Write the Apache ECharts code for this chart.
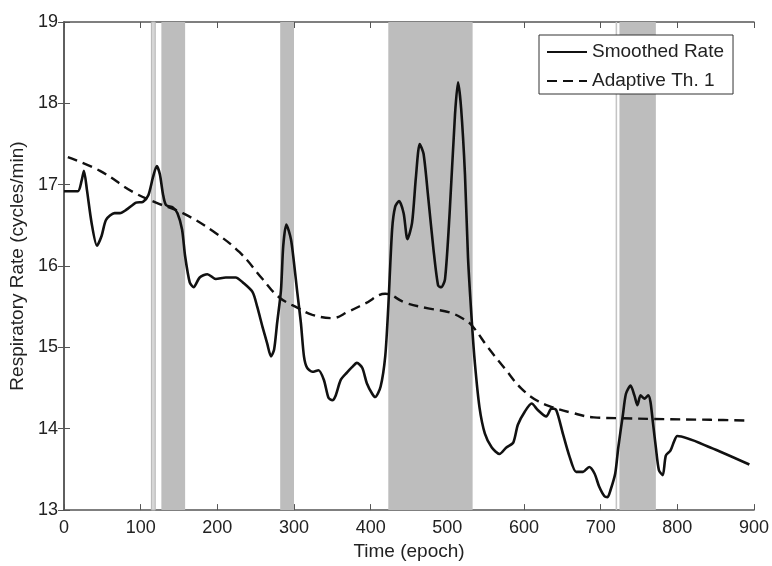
<!DOCTYPE html>
<html>
<head>
<meta charset="utf-8">
<script src="https://cdn.jsdelivr.net/npm/echarts@6/dist/echarts.min.js"></script>
<style>
html,body{margin:0;padding:0;background:#fff;}
#chart{width:772px;height:566px;}
</style>
</head>
<body>
<div id="chart"></div>
<script>
// Smoothed respiratory rate: epoch / value
var smoothedX = [0,18,23,26,30,36,43,49,55,66,73,81,94,103,110,116,121,125,129,133,142,148,154,158,164,169,177,187,198,211,224,233,246,252,259,265,270,274,278,283,286,290,296,300,304,309,313,317,324,332,339,345,350,354,361,369,376,382,389,395,402,406,413,419,423,428,432,437,443,448,454,459,464,469,475,482,488,492,497,503,510,514,518,523,527,532,536,542,549,558,568,577,586,592,601,610,618,629,636,642,651,659,668,677,685,692,698,705,709,713,719,723,729,733,739,744,748,752,757,762,765,768,772,776,781,785,791,796,800,843,894];
var smoothedY = [16.92,16.92,17.05,17.17,16.93,16.53,16.25,16.37,16.57,16.65,16.65,16.69,16.78,16.79,16.87,17.09,17.23,17.13,16.89,16.75,16.72,16.65,16.45,16.12,15.8,15.74,15.86,15.9,15.84,15.86,15.86,15.8,15.68,15.5,15.25,15.05,14.89,14.97,15.3,15.7,16.25,16.51,16.33,16.04,15.7,15.3,14.89,14.75,14.7,14.72,14.6,14.38,14.35,14.4,14.6,14.69,14.76,14.81,14.75,14.56,14.43,14.39,14.52,14.89,15.5,16.45,16.73,16.8,16.65,16.33,16.53,17.09,17.5,17.38,16.85,16.2,15.76,15.74,15.84,16.65,17.86,18.26,17.94,17.13,16.1,15.31,14.8,14.26,13.94,13.77,13.69,13.77,13.83,14.05,14.21,14.31,14.23,14.15,14.25,14.23,13.93,13.67,13.47,13.47,13.53,13.45,13.29,13.17,13.16,13.25,13.45,13.77,14.17,14.43,14.53,14.41,14.29,14.41,14.37,14.41,14.33,14.09,13.77,13.49,13.43,13.67,13.73,13.85,13.91,13.77,13.56];

// Adaptive threshold 1: epoch / value
var thresholdX = [5,47,90,120,155,194,229,259,280,306,324,350,371,393,419,445,475,503,521,532,553,575,596,618,639,661,691,726,769,843,895];
var thresholdY = [17.34,17.17,16.91,16.78,16.65,16.43,16.17,15.84,15.62,15.48,15.4,15.36,15.44,15.54,15.66,15.55,15.48,15.43,15.35,15.27,15.0,14.74,14.5,14.34,14.26,14.2,14.14,14.13,14.12,14.11,14.1];

// Shaded epoch intervals [start, end]
var bandStart = [114,127,282,423,724.5];
var bandEnd   = [119,158,300,533,772];
var thinStart = [719.5];
var thinEnd   = [721.5];

var xTicks = [0,100,200,300,400,500,600,700,800,900];
var yTicks = [13,14,15,16,17,18,19];

function pairs(xs, ys){ return xs.map(function(x,i){ return [x, ys[i]]; }); }

var bandData = bandStart.map(function(s,i){
  return [{xAxis:s, itemStyle:{color:'#bdbdbd'}}, {xAxis:bandEnd[i]}];
});
bandData[0][0].itemStyle = {color:'#d6d6d6', borderColor:'#b4b4b4', borderWidth:1};
thinStart.forEach(function(s,i){
  bandData.push([{xAxis:s, itemStyle:{color:'#c4c4c4'}}, {xAxis:thinEnd[i]}]);
});

var font = '"Liberation Sans", Arial, sans-serif';
var axisColor = '#555';

var chart = echarts.init(document.getElementById('chart'), null, {renderer:'canvas'});
chart.setOption({
  animation:false,
  backgroundColor:'#fff',
  grid:{left:64, right:15, top:22, bottom:48, show:false},
  legend:{
    orient:'vertical', left:539, top:35,
    itemWidth:40, itemHeight:14, itemGap:7,
    padding:[6,9,2,7],
    borderColor:'#333', borderWidth:1, backgroundColor:'#fff',
    itemStyle:{color:'transparent', borderColor:'transparent', borderWidth:0},
    textStyle:{fontFamily:font, fontSize:19, color:'#222', lineHeight:22},
    data:['Smoothed Rate','Adaptive Th. 1']
  },
  xAxis:[{
    type:'value', min:xTicks[0], max:xTicks[xTicks.length-1], interval:100,
    name:'Time (epoch)', nameLocation:'middle', nameGap:27,
    nameTextStyle:{fontFamily:font, fontSize:19, color:'#222'},
    axisLine:{show:true, lineStyle:{color:axisColor, width:1.5}},
    axisTick:{show:true, inside:true, length:6, lineStyle:{color:axisColor}},
    axisLabel:{fontFamily:font, fontSize:18, color:'#222', margin:9},
    splitLine:{show:false}
  },{
    type:'value', position:'top', min:xTicks[0], max:xTicks[xTicks.length-1], interval:100,
    axisLine:{show:true, lineStyle:{color:axisColor, width:1.5}},
    axisTick:{show:true, inside:true, length:6, lineStyle:{color:axisColor}},
    axisLabel:{show:false}, splitLine:{show:false}
  }],
  yAxis:[{
    type:'value', min:yTicks[0], max:yTicks[yTicks.length-1], interval:1,
    name:'Respiratory Rate (cycles/min)', nameLocation:'middle', nameGap:34,
    nameTextStyle:{fontFamily:font, fontSize:19, color:'#222'},
    axisLine:{show:true, lineStyle:{color:axisColor, width:1.5}},
    axisTick:{show:true, inside:true, length:6, lineStyle:{color:axisColor}},
    axisLabel:{fontFamily:font, fontSize:18, color:'#222', margin:6},
    splitLine:{show:false}
  },{
    type:'value', position:'right', min:yTicks[0], max:yTicks[yTicks.length-1], interval:1,
    axisLine:{show:true, lineStyle:{color:axisColor, width:1.5}},
    axisTick:{show:true, inside:true, length:6, lineStyle:{color:axisColor}},
    axisLabel:{show:false}, splitLine:{show:false}
  }],
  series:[{
    type:'line', name:'bands', data:[], z:1, silent:true,
    markArea:{silent:true, data:bandData}
  },{
    type:'line', name:'Smoothed Rate', data:pairs(smoothedX, smoothedY),
    showSymbol:false, symbol:'none', smooth:0.25, z:3,
    lineStyle:{color:'#111', width:2.6}, itemStyle:{color:'#111'}
  },{
    type:'line', name:'Adaptive Th. 1', data:pairs(thresholdX, thresholdY),
    showSymbol:false, symbol:'none', smooth:0.4, z:3,
    lineStyle:{color:'#111', width:2.4, type:[10,6]}, itemStyle:{color:'#111'}
  }]
});
</script>
</body>
</html>
